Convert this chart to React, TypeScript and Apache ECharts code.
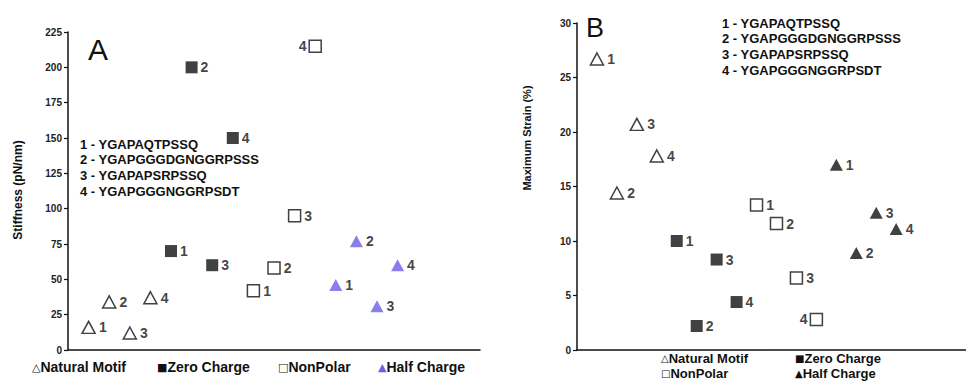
import React, { useEffect, useRef } from "react";
import * as echarts from "echarts";

const groupLabels = ["1", "2", "3", "4"];
const sequences = [
  "1 - YGAPAQTPSSQ",
  "2 - YGAPGGGDGNGGRPSSS",
  "3 - YGAPAPSRPSSQ",
  "4 - YGAPGGGNGGRPSDT",
];
const groupNames = ["Natural Motif", "Zero Charge", "NonPolar", "Half Charge"];

// Panel A: stiffness (pN/nm)
const stiffNatural = [16, 34, 12, 37];
const stiffZero = [70, 200, 60, 150];
const stiffNonPolar = [42, 58, 95, 215];
const stiffHalf = [46, 77, 31, 60];

// Panel B: maximum strain (%)
const strainNatural = [26.7, 14.4, 20.7, 17.8];
const strainZero = [10.0, 2.2, 8.3, 4.4];
const strainNonPolar = [13.3, 11.6, 6.6, 2.8];
const strainHalf = [17.0, 8.9, 12.6, 11.1];

const stiffTicks = [0, 225, 25];
const strainTicks = [0, 30, 5];

const FONT = "Liberation Sans, Arial, sans-serif";
const PURPLE = "#6d5ee6";

type Style = { symbol: string; color: string; border: string };

function buildSeries(
  values: number[],
  groupIndex: number,
  axisIndex: number,
  style: Style,
  leftLabelIdx: number[] = []
) {
  return {
    type: "scatter",
    name: groupNames[groupIndex] + (axisIndex ? " B" : " A"),
    xAxisIndex: axisIndex,
    yAxisIndex: axisIndex,
    symbol: style.symbol,
    symbolSize: style.symbol === "triangle" ? [13, 12] : 12,
    itemStyle: {
      color: style.color,
      borderColor: style.border,
      borderWidth: style.color === "#ffffff" ? 1.5 : 0,
    },
    label: {
      show: true,
      position: "right",
      distance: 3,
      color: "#111",
      fontFamily: FONT,
      fontWeight: "bold",
      fontSize: 14,
      formatter: (p: any) => p.data.name,
    },
    data: values.map((v, i) => ({
      value: [groupIndex * 4 + i + 1, v],
      name: groupLabels[i],
      label: leftLabelIdx.includes(i) ? { position: "left", distance: 2 } : undefined,
    })),
  };
}

export default function App() {
  const ref = useRef<HTMLDivElement>(null);
  useEffect(() => {
    if (!ref.current) return;
    const chart = echarts.init(ref.current, undefined, { renderer: "svg" });

    const openTri: Style = { symbol: "triangle", color: "#ffffff", border: "#111" };
    const fillSq: Style = { symbol: "rect", color: "#111", border: "#111" };
    const openSq: Style = { symbol: "rect", color: "#ffffff", border: "#111" };
    const purpleTri: Style = { symbol: "triangle", color: PURPLE, border: PURPLE };
    const blackTri: Style = { symbol: "triangle", color: "#111", border: "#111" };

    const yAxisCommon = {
      type: "value",
      splitLine: { show: false },
      axisLine: { show: true, lineStyle: { color: "#111", width: 1.5 } },
      axisTick: { show: true, length: 4, lineStyle: { color: "#111", width: 1.2 } },
      axisLabel: { color: "#222", fontFamily: FONT, fontWeight: "bold", fontSize: 10, margin: 6 },
    };
    const xAxisCommon = {
      type: "value",
      min: 0,
      splitLine: { show: false },
      axisLine: { show: true, onZero: false, lineStyle: { color: "#111", width: 1.5 } },
      axisTick: { show: false },
      axisLabel: { show: false },
    };

    const txt = (x: number, y: number, text: string, size: number, weight = "bold") => ({
      type: "text",
      x,
      y,
      style: {
        text,
        fill: "#111",
        font: `${weight} ${size}px ${FONT}`,
        verticalAlign: "middle",
      },
    });

    const legendItem = (
      x: number,
      y: number,
      sym: string,
      label: string,
      symColor = "#111",
      size = 14
    ) => ({
      type: "text",
      x,
      y,
      style: {
        text: `{s|${sym}}{t|${label}}`,
        verticalAlign: "middle",
        rich: {
          s: { fontFamily: "DejaVu Sans", fontSize: size - 3, fill: symColor, fontWeight: "bold", lineHeight: size },
          t: { fontFamily: FONT, fontSize: size, fontWeight: "bold", fill: "#111", lineHeight: size },
        },
      },
    });

    const graphics: any[] = [
      txt(88, 49, "A", 30, "normal"),
      txt(586, 28, "B", 27, "normal"),
      ...sequences.map((s, i) => txt(80, 144 + i * 15.9, s, 13)),
      ...sequences.map((s, i) => txt(722, 23 + i * 15.8, s, 13)),
      {
        type: "text",
        x: 18,
        y: 190,
        rotation: Math.PI / 2,
        style: {
          text: "Stiffness (pN/nm)",
          font: `bold 12px ${FONT}`,
          fill: "#111",
          align: "center",
          verticalAlign: "middle",
        },
      },
      {
        type: "text",
        x: 527,
        y: 138,
        rotation: Math.PI / 2,
        style: {
          text: "Maximum Strain (%)",
          font: `bold 11px ${FONT}`,
          fill: "#111",
          align: "center",
          verticalAlign: "middle",
        },
      },
      legendItem(32, 367, "△", groupNames[0]),
      legendItem(157, 367, "■", groupNames[1]),
      legendItem(278, 367, "□", groupNames[2]),
      legendItem(378, 367, "▲", groupNames[3], PURPLE),
      legendItem(661, 358, "△", groupNames[0], "#111", 13),
      legendItem(795, 358, "■", groupNames[1], "#111", 13),
      legendItem(661, 373, "□", groupNames[2], "#111", 13),
      legendItem(795, 373, "▲", groupNames[3], "#111", 13),
    ];

    chart.setOption({
      animation: false,
      backgroundColor: "#ffffff",
      grid: [
        { left: 68, top: 32, width: 412, height: 318 },
        { left: 577, top: 23, width: 389, height: 327 },
      ],
      xAxis: [
        { ...xAxisCommon, gridIndex: 0, max: 20 },
        { ...xAxisCommon, gridIndex: 1, max: 19.5 },
      ],
      yAxis: [
        { ...yAxisCommon, gridIndex: 0, min: stiffTicks[0], max: stiffTicks[1], interval: stiffTicks[2] },
        { ...yAxisCommon, gridIndex: 1, min: strainTicks[0], max: strainTicks[1], interval: strainTicks[2] },
      ],
      series: [
        buildSeries(stiffNatural, 0, 0, openTri),
        buildSeries(stiffZero, 1, 0, fillSq),
        buildSeries(stiffNonPolar, 2, 0, openSq, [3]),
        buildSeries(stiffHalf, 3, 0, purpleTri),
        buildSeries(strainNatural, 0, 1, openTri),
        buildSeries(strainZero, 1, 1, fillSq),
        buildSeries(strainNonPolar, 2, 1, openSq, [3]),
        buildSeries(strainHalf, 3, 1, blackTri),
      ],
      graphic: graphics,
    });
    return () => chart.dispose();
  }, []);

  return (
    <div
      ref={ref}
      style={{ position: "fixed", left: 0, top: 0, width: 966, height: 381, background: "#fff" }}
    />
  );
}
